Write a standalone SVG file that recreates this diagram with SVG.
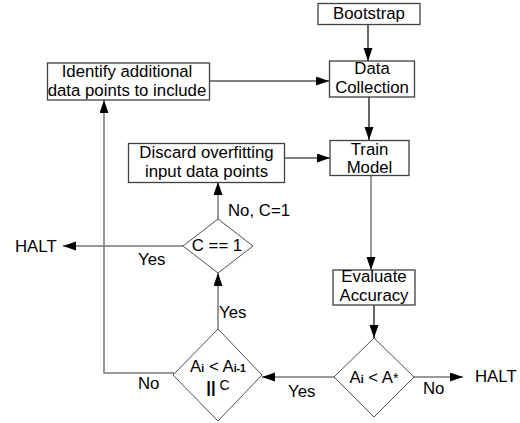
<svg xmlns="http://www.w3.org/2000/svg" width="520" height="423" viewBox="0 0 520 423">
<defs>
<marker id="ah" markerUnits="userSpaceOnUse" markerWidth="13" markerHeight="10" refX="13" refY="4.5" orient="auto">
<path d="M0,0 L13,4.5 L0,9 z" fill="#000"/>
</marker>
<style>
text{font-family:"Liberation Sans",Arial,sans-serif;font-size:16.8px;fill:#000}
.c{text-anchor:middle}
.box{fill:#fff;stroke:#404040;stroke-width:1.3}
.dia{fill:#fff;stroke:#505050;stroke-width:1}
.ln{fill:none;stroke:#000;stroke-width:1.2;marker-end:url(#ah)}
.lga{fill:none;stroke:#777;stroke-width:1.5;marker-end:url(#ah)}
.sm{font-size:10.5px;font-weight:bold}
</style>
</defs>
<rect width="520" height="423" fill="#fff"/>
<g id="connectors">
<line class="ln" x1="368" y1="24" x2="368" y2="61"/>
<line class="ln" x1="369" y1="97" x2="369" y2="140"/>
<line class="ln" x1="209" y1="81" x2="329" y2="81"/>
<line class="ln" x1="284" y1="158" x2="330" y2="158"/>
<line class="lga" x1="371" y1="175" x2="371" y2="270"/>
<line class="ln" x1="374" y1="305" x2="374" y2="338"/>
<line class="lga" x1="414" y1="377" x2="463" y2="377"/>
<line class="lga" x1="334" y1="377" x2="262" y2="377"/>
<polyline class="lga" points="174,373 104,373 104,100"/>
<line class="lga" x1="218" y1="329" x2="218" y2="273"/>
<line class="lga" x1="183" y1="246" x2="63" y2="246"/>
<line class="lga" x1="218" y1="219" x2="218" y2="182"/>
<text x="423" y="394">No</text>
<text x="475" y="382">HALT</text>
<text x="288" y="397">Yes</text>
<text x="138" y="389">No</text>
<text x="219" y="318">Yes</text>
<text x="138" y="265">Yes</text>
<text x="15" y="251.5">HALT</text>
<text x="228" y="216">No, C=1</text>
</g>
<g id="bootstrap">
<rect class="box" x="318" y="3.5" width="102" height="21"/>
<text class="c" x="369" y="19">Bootstrap</text>
</g>
<g id="data-collection">
<rect class="box" x="329.5" y="61" width="85" height="36"/>
<text class="c" x="372" y="73.5">Data</text>
<text class="c" x="372" y="92.5">Collection</text>
</g>
<g id="identify">
<rect class="box" x="47.5" y="63" width="162" height="37"/>
<text class="c" x="127" y="77">Identify additional</text>
<text class="c" x="127" y="95.5">data points to include</text>
</g>
<g id="train-model">
<rect class="box" x="330" y="140.5" width="79" height="35"/>
<text class="c" x="369.5" y="155">Train</text>
<text class="c" x="369.5" y="173">Model</text>
</g>
<g id="discard">
<rect class="box" x="128.5" y="143.5" width="156" height="39"/>
<text class="c" x="206.5" y="158">Discard overfitting</text>
<text class="c" x="206.5" y="176.5">input data points</text>
</g>
<g id="evaluate">
<rect class="box" x="333" y="270" width="82" height="35"/>
<text class="c" x="374" y="282">Evaluate</text>
<text class="c" x="374" y="300.5">Accuracy</text>
</g>
<g id="check-target">
<polygon class="dia" points="374,338 414,377 374,417 334,377"/>
<text class="c" x="374" y="383">A<tspan class="sm">i</tspan> &lt; A<tspan font-size="14">*</tspan></text>
</g>
<g id="check-improve">
<polygon class="dia" points="218,329 262,375 218,421 173,375"/>
<text class="c" x="218" y="372">A<tspan class="sm">i</tspan> &lt; A<tspan class="sm">i-1</tspan></text>
<text class="c" x="218" y="393"><tspan font-weight="bold">||</tspan><tspan font-size="14" dy="-3"> C</tspan></text>
</g>
<g id="check-c">
<polygon class="dia" points="218,219 253,246 218,273 183,246"/>
<text class="c" x="217" y="251">C == 1</text>
</g>
</svg>
